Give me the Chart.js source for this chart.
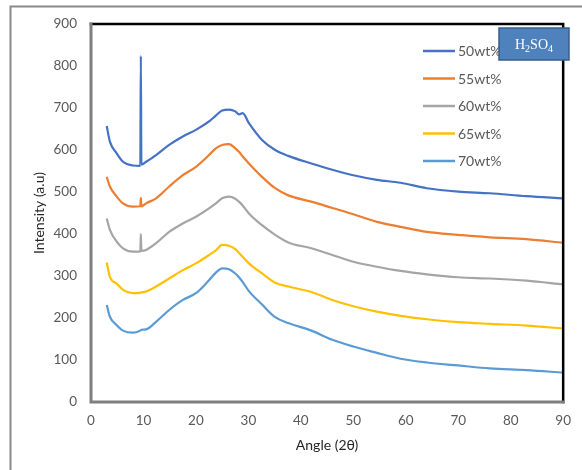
<!DOCTYPE html>
<html lang="en">
<head>
  <meta charset="UTF-8">
  <title>H2SO4 XRD patterns</title>
  <script src="https://cdn.jsdelivr.net/npm/chart.js"></script>
  <style>
    body {
      margin: 0;
      padding: 0;
      background: #fff;
    }
    #wrap {
      width: 582px;
      height: 470px;
    }
  </style>
</head>
<body>
  <div id="wrap">
    <canvas id="myChart" width="582" height="470"></canvas>
  </div>

  <script>
    // 2-theta positions (shared by all curves)
    const angles = [3, 3.6, 4.9, 6.1, 8, 9.4, 9.5, 9.6, 10.5, 12.4, 14.9, 17.5, 20, 22.5, 23.8, 25, 26.3,
      27.5, 28.2, 28.9, 30.1, 32.6, 35.1, 37.6, 42, 46, 50, 54.5, 59, 64, 70, 76, 83, 90];

    const seriesLabels = ['50wt%', '55wt%', '60wt%', '65wt%', '70wt%'];
    const seriesColors = ['#4472C4', '#ED7D31', '#A5A5A5', '#FFC000', '#5B9BD5'];

    const wt50 = [657, 620, 592, 572, 563, 562, 824, 565, 572, 588, 612, 632, 648, 668, 682, 694, 696,
      692, 685, 688, 664, 624, 600, 586, 568, 553, 540, 529, 522, 509, 501, 497, 490, 485];
    const wt55 = [536, 513, 489, 473, 465, 466, 486, 466, 473, 485, 513, 540, 560, 588, 604, 612, 614,
      604, 596, 585, 568, 536, 509, 492, 477, 462, 447, 429, 417, 405, 398, 392, 388, 379];
    const wt60 = [437, 410, 382, 366, 358, 358, 400, 360, 362, 378, 405, 425, 441, 461, 473, 485, 489,
      484, 477, 468, 449, 421, 398, 380, 366, 350, 334, 322, 312, 304, 297, 294, 289, 280];
    const wt65 = [332, 298, 282, 267, 259, 260, 261, 261, 263, 275, 294, 314, 330, 350, 361, 374, 372,
      364, 355, 346, 330, 306, 284, 275, 262, 243, 228, 215, 205, 197, 190, 186, 182, 175];
    const wt70 = [231, 203, 183, 170, 165, 170, 171, 172, 173, 191, 219, 243, 259, 290, 308, 318, 316,
      306, 297, 286, 264, 232, 202, 188, 170, 148, 132, 117, 103, 94, 87, 80, 76, 70];

    const allSeries = [wt50, wt55, wt60, wt65, wt70];

    const xTicks = [0, 10, 20, 30, 40, 50, 60, 70, 80, 90];
    const yTicks = [0, 100, 200, 300, 400, 500, 600, 700, 800, 900];

    const tickFont = { family: 'Lato', size: 13.5 };
    const tickColor = '#595959';
    const titleFont = { family: 'Lato', size: 14 };

    // frame around the plot + outer picture border
    const framePlugin = {
      id: 'frame',
      afterDatasetsDraw(chart) {
        const { ctx, chartArea: a } = chart;
        ctx.save();
        ctx.lineCap = 'square';
        ctx.strokeStyle = '#000';
        ctx.lineWidth = 2.5;
        ctx.beginPath();
        ctx.moveTo(a.left, a.top);
        ctx.lineTo(a.right, a.top);
        ctx.lineTo(a.right, a.bottom);
        ctx.stroke();
        ctx.strokeStyle = '#7f7f7f';
        ctx.lineWidth = 3;
        ctx.beginPath();
        ctx.moveTo(a.left, a.top);
        ctx.lineTo(a.left, a.bottom);
        ctx.lineTo(a.right, a.bottom);
        ctx.stroke();

        ctx.strokeStyle = '#8a8a8a';
        ctx.lineWidth = 2;
        ctx.beginPath();
        ctx.moveTo(10.5, 470);
        ctx.lineTo(10.5, 6.5);
        ctx.lineTo(582, 6.5);
        ctx.stroke();
        ctx.restore();
      }
    };

    // legend lines + the H2SO4 label box
    const legendPlugin = {
      id: 'sideLegend',
      afterDraw(chart) {
        const ctx = chart.ctx;
        ctx.save();
        chart.data.datasets.forEach((ds, i) => {
          const y = 51 + i * 27.5;
          ctx.strokeStyle = ds.borderColor;
          ctx.lineWidth = 2.5;
          ctx.beginPath();
          ctx.moveTo(423, y);
          ctx.lineTo(455, y);
          ctx.stroke();
          ctx.fillStyle = tickColor;
          ctx.font = '14px Lato';
          ctx.textBaseline = 'middle';
          ctx.textAlign = 'left';
          ctx.fillText(ds.label, 458, y + 0.5);
        });

        ctx.fillStyle = '#4F81BD';
        ctx.strokeStyle = '#385D8A';
        ctx.lineWidth = 1.5;
        ctx.fillRect(499, 28, 70, 32);
        ctx.strokeRect(499, 28, 70, 32);

        const parts = [['H', false], ['2', true], ['SO', false], ['4', true]];
        const big = '14px "Liberation Serif"';
        const small = '10px "Liberation Serif"';
        let w = 0;
        parts.forEach(([t, sub]) => {
          ctx.font = sub ? small : big;
          w += ctx.measureText(t).width;
        });
        let x = 534 - w / 2;
        ctx.fillStyle = '#fff';
        ctx.textBaseline = 'alphabetic';
        parts.forEach(([t, sub]) => {
          ctx.font = sub ? small : big;
          ctx.fillText(t, x, sub ? 51.5 : 49);
          x += ctx.measureText(t).width;
        });
        ctx.restore();
      }
    };

    const ctx = document.getElementById('myChart').getContext('2d');
    new Chart(ctx, {
      type: 'line',
      data: {
        datasets: seriesLabels.map((label, i) => ({
          label: label,
          data: angles.map((a, j) => ({ x: a, y: allSeries[i][j] })),
          borderColor: seriesColors[i],
          backgroundColor: seriesColors[i],
          borderWidth: 2.2,
          pointRadius: 0,
          cubicInterpolationMode: 'monotone',
          fill: false
        }))
      },
      options: {
        responsive: false,
        animation: false,
        layout: { padding: { left: 0, top: 24, right: 15, bottom: 0 } },
        plugins: {
          legend: { display: false },
          tooltip: { enabled: false }
        },
        scales: {
          x: {
            type: 'linear',
            min: 0,
            max: 90,
            afterBuildTicks: s => { s.ticks = xTicks.map(v => ({ value: v })); },
            afterFit: s => { s.height = 68; },
            grid: { display: false, drawTicks: false },
            border: { display: false },
            ticks: { font: tickFont, color: tickColor, padding: 11, maxRotation: 0 },
            title: {
              display: true,
              text: 'Angle (2θ)',
              font: titleFont,
              color: '#262626',
              padding: { top: 0, bottom: 16 }
            }
          },
          y: {
            min: 0,
            max: 900,
            afterBuildTicks: s => { s.ticks = yTicks.map(v => ({ value: v })); },
            afterFit: s => { s.width = 91; },
            grid: { display: false, drawTicks: false },
            border: { display: false },
            ticks: { font: tickFont, color: tickColor, padding: 14 },
            title: {
              display: true,
              text: 'Intensity (a.u)',
              font: titleFont,
              color: '#262626',
              padding: { top: 31, bottom: 0 }
            }
          }
        }
      },
      plugins: [framePlugin, legendPlugin]
    });
  </script>
</body>
</html>
